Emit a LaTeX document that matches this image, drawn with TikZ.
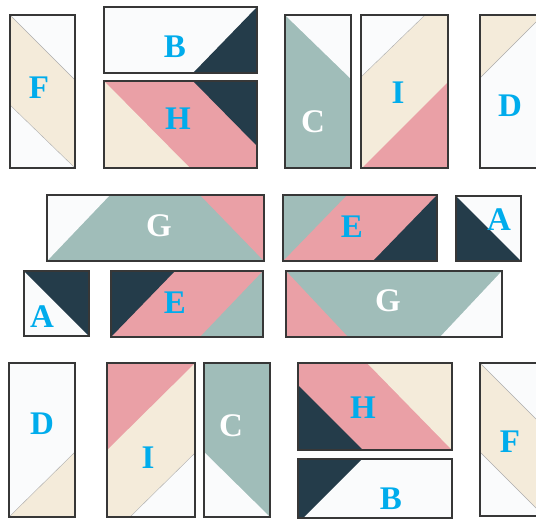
\documentclass[tikz,border=0pt]{standalone}
\usepackage{fontspec}
\setmainfont{Liberation Serif}
\definecolor{drk}{RGB}{36,60,74}
\definecolor{pnk}{RGB}{234,160,166}
\definecolor{bge}{RGB}{244,235,218}
\definecolor{tea}{RGB}{160,189,185}
\definecolor{wht}{RGB}{250,251,252}
\definecolor{lblue}{RGB}{0,172,236}
\definecolor{frm}{RGB}{55,55,55}
\tikzset{
  frame/.style={draw=frm,line width=1.4pt},
  seam/.style={draw=gray!65,line width=0.4pt},
  lbl/.style={font=\bfseries\fontsize{33}{33}\selectfont,text=lblue,inner sep=0pt},
  wlbl/.style={lbl,text=white},
}
\newcommand{\blockbg}[5]{% x1 y1 x2 y2 color
  \fill[#5] (#1,#2) rectangle (#3,#4);}
\begin{document}
\begin{tikzpicture}[x=1pt,y=-1pt]
\useasboundingbox (0,0) rectangle (536,520);
\clip (0,0) rectangle (536,520);
\fill[white] (0,0) rectangle (536,520);

% 1 F top-left
\begin{scope}
\clip (10,15) rectangle (75,168);
\blockbg{10}{15}{75}{168}{bge}
\fill[wht,seam] (10,15) -- (75,15) -- (75,80) -- cycle;
\fill[wht,seam] (10,105) -- (10,168) -- (75,168) -- cycle;
\end{scope}
\draw[frame] (10,15) rectangle (75,168);
\node[lbl] (f1) at (39,88) {F};

% 2 B top
\begin{scope}
\clip (104,7) rectangle (257,73);
\blockbg{104}{7}{257}{73}{wht}
\fill[drk] (257,7) -- (257,73) -- (193,73) -- cycle;
\end{scope}
\draw[frame] (104,7) rectangle (257,73);
\node[lbl] (b1) at (175,47) {B};

% 3 H top
\begin{scope}
\clip (104,81) rectangle (257,168);
\blockbg{104}{81}{257}{168}{pnk}
\fill[bge] (104,81) -- (104,168) -- (190,168) -- cycle;
\fill[drk] (193,81) -- (257,81) -- (257,146) -- cycle;
\end{scope}
\draw[frame] (104,81) rectangle (257,168);
\node[lbl] (h1) at (178,119) {H};

% 4 C top
\begin{scope}
\clip (285,15) rectangle (351,168);
\blockbg{285}{15}{351}{168}{tea}
\fill[wht] (285,15) -- (351,15) -- (351,79) -- cycle;
\end{scope}
\draw[frame] (285,15) rectangle (351,168);
\node[wlbl] (c1) at (313,122) {C};

% 5 I top
\begin{scope}
\clip (361,15) rectangle (448,168);
\blockbg{361}{15}{448}{168}{bge}
\fill[wht,seam] (361,15) -- (425,15) -- (361,77) -- cycle;
\fill[pnk] (448,82) -- (448,168) -- (362,168) -- cycle;
\end{scope}
\draw[frame] (361,15) rectangle (448,168);
\node[lbl] (i1) at (398,93) {I};

% 6 D top-right
\begin{scope}
\clip (480,15) rectangle (546,168);
\blockbg{480}{15}{546}{168}{wht}
\fill[bge,seam] (480,15) -- (543,15) -- (480,78) -- cycle;
\end{scope}
\draw[frame] (480,15) rectangle (546,168);
\node[lbl] (d1) at (510,106) {D};

% 7 G row2 left
\begin{scope}
\clip (47,195) rectangle (264,261);
\blockbg{47}{195}{264}{261}{tea}
\fill[wht] (47,195) -- (110,195) -- (47,261) -- cycle;
\fill[pnk] (200,195) -- (264,195) -- (264,261) -- cycle;
\end{scope}
\draw[frame] (47,195) rectangle (264,261);
\node[wlbl] (g1) at (159,226) {G};

% 8 E row2 right
\begin{scope}
\clip (283,195) rectangle (437,261);
\blockbg{283}{195}{437}{261}{pnk}
\fill[tea] (283,195) -- (347,195) -- (283,261) -- cycle;
\fill[drk] (437,195) -- (437,261) -- (373,261) -- cycle;
\end{scope}
\draw[frame] (283,195) rectangle (437,261);
\node[lbl] (e1) at (352,227) {E};

% 9 A row2 right
\begin{scope}
\clip (456,196) rectangle (521,261);
\blockbg{456}{196}{521}{261}{wht}
\fill[drk] (456,196) -- (521,261) -- (456,261) -- cycle;
\end{scope}
\draw[frame] (456,196) rectangle (521,261);
\node[lbl] (a1) at (499,220) {A};

% 10 A row3 left
\begin{scope}
\clip (24,271) rectangle (89,336);
\blockbg{24}{271}{89}{336}{wht}
\fill[drk] (24,271) -- (89,271) -- (89,336) -- cycle;
\end{scope}
\draw[frame] (24,271) rectangle (89,336);
\node[lbl] (a2) at (42,317) {A};

% 11 E row3
\begin{scope}
\clip (111,271) rectangle (263,337);
\blockbg{111}{271}{263}{337}{pnk}
\fill[drk] (111,271) -- (175,271) -- (111,337) -- cycle;
\fill[tea] (263,271) -- (263,337) -- (200,337) -- cycle;
\end{scope}
\draw[frame] (111,271) rectangle (263,337);
\node[lbl] (e2) at (175,303) {E};

% 12 G row3
\begin{scope}
\clip (286,271) rectangle (502,337);
\blockbg{286}{271}{502}{337}{tea}
\fill[pnk] (286,271) -- (286,337) -- (348,337) -- cycle;
\fill[wht] (502,271) -- (502,337) -- (440,337) -- cycle;
\end{scope}
\draw[frame] (286,271) rectangle (502,337);
\node[wlbl] (g2) at (388,301) {G};

% 13 D bottom-left
\begin{scope}
\clip (9,363) rectangle (75,517);
\blockbg{9}{363}{75}{517}{wht}
\fill[bge,seam] (75,452) -- (75,517) -- (9,517) -- cycle;
\end{scope}
\draw[frame] (9,363) rectangle (75,517);
\node[lbl] (d2) at (42,424) {D};

% 14 I bottom
\begin{scope}
\clip (107,363) rectangle (195,517);
\blockbg{107}{363}{195}{517}{bge}
\fill[pnk] (107,363) -- (195,363) -- (107,450) -- cycle;
\fill[wht,seam] (195,453) -- (195,517) -- (130,517) -- cycle;
\end{scope}
\draw[frame] (107,363) rectangle (195,517);
\node[lbl] (i2) at (148,458) {I};

% 15 C bottom
\begin{scope}
\clip (204,363) rectangle (270,517);
\blockbg{204}{363}{270}{517}{tea}
\fill[wht] (204,452) -- (204,517) -- (270,517) -- cycle;
\end{scope}
\draw[frame] (204,363) rectangle (270,517);
\node[wlbl] (c2) at (231,426) {C};

% 16 H bottom
\begin{scope}
\clip (298,363) rectangle (452,450);
\blockbg{298}{363}{452}{450}{pnk}
\fill[bge] (367,363) -- (452,363) -- (452,450) -- cycle;
\fill[drk] (298,385) -- (298,450) -- (363,450) -- cycle;
\end{scope}
\draw[frame] (298,363) rectangle (452,450);
\node[lbl] (h2) at (363,408) {H};

% 17 B bottom
\begin{scope}
\clip (298,459) rectangle (452,518);
\blockbg{298}{459}{452}{518}{wht}
\fill[drk] (298,459) -- (362,459) -- (298,523) -- cycle;
\end{scope}
\draw[frame] (298,459) rectangle (452,518);
\node[lbl] (b2) at (391,499) {B};

% 18 F bottom-right
\begin{scope}
\clip (480,363) rectangle (546,516);
\blockbg{480}{363}{546}{516}{bge}
\fill[wht,seam] (480,363) -- (546,363) -- (546,429) -- cycle;
\fill[wht,seam] (480,452) -- (480,516) -- (544,516) -- cycle;
\end{scope}
\draw[frame] (480,363) rectangle (546,516);
\node[lbl] (f2) at (510,442) {F};
\end{tikzpicture}
\end{document}
